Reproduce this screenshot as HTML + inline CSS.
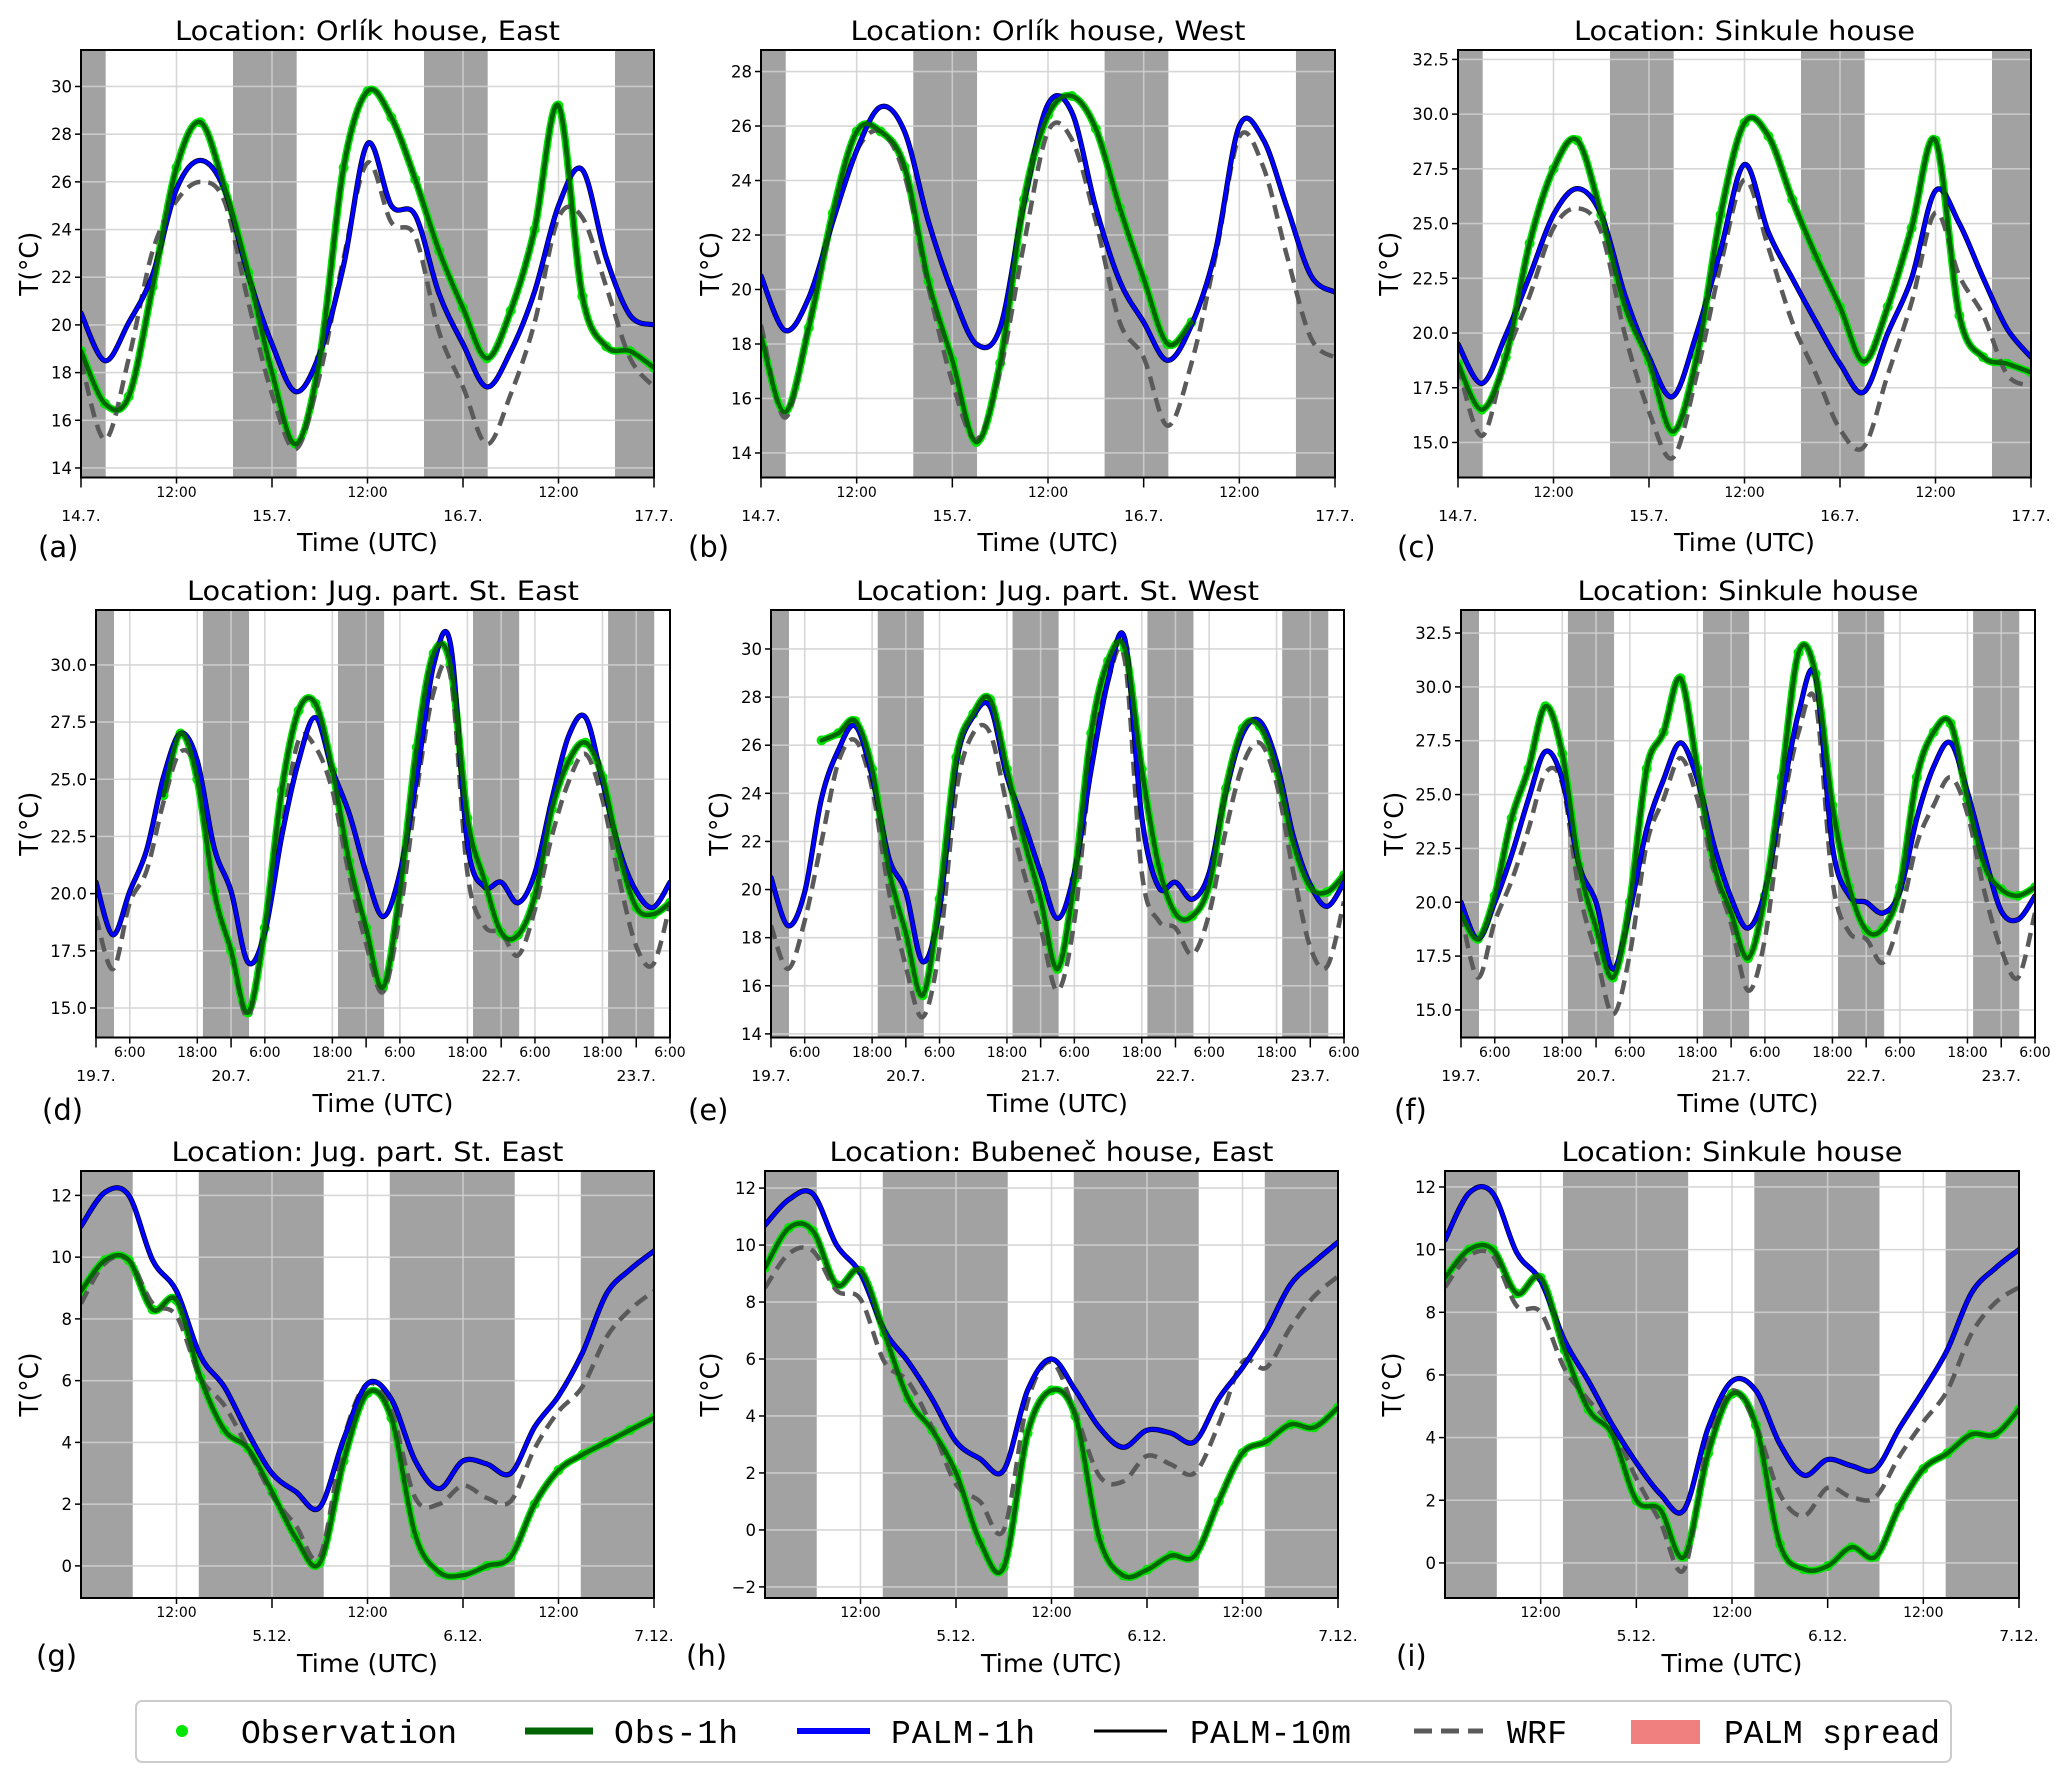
<!DOCTYPE html>
<html><head><meta charset="utf-8"><title>Temperature comparison panels</title>
<style>
html,body{margin:0;padding:0;background:#fff;}
svg{display:block;font-family:"DejaVu Sans","Liberation Sans",sans-serif;}
</style></head>
<body>
<svg id="fig" width="2067" height="1781" viewBox="0 0 2067 1781" xmlns="http://www.w3.org/2000/svg">
<rect x="0" y="0" width="2067" height="1781" fill="#fff"/>
<g id="panels"></g>
<g id="legend">
  <rect x="136" y="1701" width="1815" height="61" rx="6" fill="#fff" stroke="#cccccc" stroke-width="2"/>
  <g>
    <circle cx="182" cy="1731" r="6" fill="#00e600"/>
    <text x="241" y="1743" font-family="'Liberation Mono','DejaVu Sans Mono',monospace" font-size="33" textLength="216">Observation</text>
  </g>
  <g>
    <line x1="525" y1="1731" x2="593" y2="1731" stroke="#006400" stroke-width="7"/>
    <text x="614" y="1743" font-family="'Liberation Mono','DejaVu Sans Mono',monospace" font-size="33" textLength="124">Obs-1h</text>
  </g>
  <g>
    <line x1="797" y1="1731" x2="870" y2="1731" stroke="#0000ff" stroke-width="6"/>
    <text x="891" y="1743" font-family="'Liberation Mono','DejaVu Sans Mono',monospace" font-size="33" textLength="144">PALM-1h</text>
  </g>
  <g>
    <line x1="1094" y1="1731" x2="1167" y2="1731" stroke="#000" stroke-width="3"/>
    <text x="1190" y="1743" font-family="'Liberation Mono','DejaVu Sans Mono',monospace" font-size="33" textLength="161">PALM-10m</text>
  </g>
  <g>
    <line x1="1414" y1="1731" x2="1483" y2="1731" stroke="#5a5a5a" stroke-width="5" stroke-dasharray="18,9"/>
    <text x="1507" y="1743" font-family="'Liberation Mono','DejaVu Sans Mono',monospace" font-size="33" textLength="60">WRF</text>
  </g>
  <g>
    <rect x="1631" y="1720" width="69" height="24" fill="#f08080"/>
    <text x="1724" y="1743" font-family="'Liberation Mono','DejaVu Sans Mono',monospace" font-size="33" textLength="216">PALM spread</text>
  </g>
</g>
</svg>
<script>
// ---------- time grids (hours from start) ----------
const row1T = [0,3,6,9,12,15,18,21,24,27,30,33,36,39,42,45,48,51,54,57,60,63,66,69,72];
const row2T = [0,3,6,9,12,15,18,21,24,27,30,33,36,39,42,45,48,51,54,57,60,63,66,69,72,75,78,81,84,87,90,93,96,99,102];
const row3T = row1T;
// night bands (hours)
const row1Night = [[0,3.1],[19.1,27.1],[43.1,51.1],[67.1,72]];
const row2Night = [[0,3.2],[19,27.2],[43,51.2],[67,75.2],[91,99.2]];
const row3Night = [[0,6.5],[14.8,30.5],[38.8,54.5],[62.8,72]];
// tick labels
const row1TimeTicks = [12,36,60];
const row1TimeLabels = ["12:00","12:00","12:00"];
const row1DateTicks = [0,24,48,72];
const row1DateLabels = ["14.7.","15.7.","16.7.","17.7."];
const row2TimeTicks = [6,18,30,42,54,66,78,90,102];
const row2TimeLabels = ["6:00","18:00","6:00","18:00","6:00","18:00","6:00","18:00","6:00"];
const row2DateTicks = [0,24,48,72,96];
const row2DateLabels = ["19.7.","20.7.","21.7.","22.7.","23.7."];
const row3TimeTicks = [12,36,60];
const row3TimeLabels = ["12:00","12:00","12:00"];
const row3DateTicks = [24,48,72];
const row3DateLabels = ["5.12.","6.12.","7.12."];

// ---------- panel (a) Orlík house, East ----------
const aObs  = [18.9,16.7,17.0,21.6,26.6,28.5,25.8,22.2,18.0,15.0,18.6,26.6,29.8,28.7,26.1,23.1,20.7,18.6,20.6,24.0,29.2,21.2,19.1,18.9,18.2];
const aPalm = [20.5,18.5,20.1,22.1,25.7,26.9,25.7,22.1,19.2,17.2,18.8,22.5,27.6,25.0,24.6,21.3,19.2,17.4,18.9,21.4,25.0,26.5,22.8,20.4,20.0];
const aWrf  = [18.5,15.2,18.6,23.1,25.2,26.0,25.2,21.0,17.1,14.8,17.9,22.8,26.8,24.3,23.7,19.7,17.4,15.0,17.1,20.1,24.5,24.5,21.6,18.6,17.4];
// ---------- panel (b) Orlík house, West ----------
const bObs  = [18.3,15.5,18.6,22.8,25.8,25.8,24.5,20.3,17.4,14.4,17.3,23.3,26.4,27.1,25.9,23.0,20.4,18.0,18.8,null,null,null,null,null,null];
const bPalm = [20.5,18.5,19.7,22.5,25.1,26.7,25.8,22.5,19.9,18.0,18.6,23.2,26.8,26.5,23.0,20.3,18.8,17.4,18.7,21.4,26.0,25.5,23.0,20.5,19.9];
const bWrf  = [18.7,15.3,18.7,22.5,25.1,25.8,24.2,20.1,16.6,14.5,17.0,21.7,25.8,25.5,22.5,18.8,17.5,15.0,17.3,21.2,25.6,24.5,21.2,18.2,17.5];
// ---------- panel (c) Sinkule house (July 14-17) ----------
const cObs  = [18.6,16.5,18.9,24.1,27.5,28.8,25.4,21.2,18.7,15.5,18.9,25.4,29.6,29.0,26.1,23.5,21.2,18.7,21.2,24.8,28.8,20.8,18.9,18.6,18.2];
const cPalm = [19.5,17.7,19.9,22.6,25.4,26.6,25.4,21.7,18.9,17.1,20.0,23.8,27.7,24.6,22.5,20.5,18.6,17.3,20.0,22.5,26.5,25.0,22.5,20.2,18.9];
const cWrf  = [18.5,15.3,18.9,21.7,24.8,25.7,24.6,19.9,16.4,14.3,18.1,23.1,27.0,23.9,20.5,18.1,15.6,14.8,18.1,21.4,25.5,22.6,20.8,18.1,17.6];
// ---------- panel (d) Jug. part. St. East ----------
const dObs  = [null,null,null,null,24.3,27.0,25.0,20.1,17.5,14.8,18.5,24.5,28.0,28.3,25.4,21.4,18.5,15.9,20.1,26.4,30.5,30.0,23.3,20.6,18.3,18.2,19.9,23.7,25.8,26.6,25.1,21.7,19.4,19.1,19.6];
const dPalm = [20.5,18.2,20.1,21.9,25.1,27.0,25.8,22.0,20.1,17.0,18.3,22.5,25.8,27.7,25.4,23.5,20.9,19.0,20.9,25.1,30.0,30.9,22.2,20.3,20.5,19.6,20.9,24.1,26.9,27.7,24.9,21.9,20.1,19.4,20.5];
const dWrf  = [19.0,16.7,19.6,21.0,24.0,26.2,25.2,20.1,17.5,14.6,18.5,22.8,26.7,26.4,24.5,20.8,17.8,15.7,19.1,24.5,28.8,29.5,20.9,18.6,18.3,17.3,19.3,22.5,24.9,26.1,24.1,20.6,17.7,16.9,19.5];
// ---------- panel (e) Jug. part. St. West ----------
const eObs  = [null,null,null,26.2,26.5,27.0,25.0,20.8,18.2,15.6,19.6,25.5,27.3,27.9,25.0,22.1,19.6,16.7,20.4,26.5,29.5,30.0,25.0,21.0,19.0,18.9,20.2,24.2,26.7,26.8,25.0,21.9,20.1,19.9,20.6];
const ePalm = [20.5,18.5,19.9,23.8,25.8,26.8,24.7,21.3,19.9,17.0,19.2,25.3,27.2,27.6,24.7,22.8,20.7,18.8,20.7,25.0,28.7,30.4,23.0,20.1,20.3,19.6,20.7,24.1,26.5,27.0,25.3,22.2,20.2,19.3,20.3];
const eWrf  = [18.5,16.7,18.7,22.0,25.3,26.2,24.2,19.9,16.8,14.7,17.6,24.1,26.5,26.5,23.5,20.7,18.4,15.8,18.7,25.3,28.7,29.5,20.7,18.7,18.4,17.3,19.0,22.5,25.2,26.1,24.4,20.7,17.6,16.8,19.5];
// ---------- panel (f) Sinkule house (July 19-23) ----------
const fObs  = [19.5,18.3,20.3,23.9,26.2,29.1,26.9,21.7,18.8,16.5,20.0,26.2,27.9,30.4,26.2,21.7,19.5,17.4,20.3,25.8,31.6,30.6,24.5,20.7,18.7,18.8,20.7,25.8,27.9,28.3,24.8,21.7,20.6,20.3,20.7];
const fPalm = [20.0,18.3,20.0,22.2,24.8,27.0,25.7,21.7,20.0,16.9,19.6,23.4,25.7,27.4,25.7,22.6,20.2,18.8,20.5,24.8,28.8,30.5,22.6,20.3,20.0,19.5,20.5,23.9,26.3,27.4,25.1,22.2,19.6,19.2,20.3];
const fWrf  = [19.5,16.5,19.1,21.0,23.4,26.0,25.5,20.5,17.6,14.8,17.6,22.7,24.8,26.7,24.8,21.4,19.0,15.9,18.3,24.1,27.9,29.3,21.0,18.6,18.3,17.2,19.3,22.7,24.5,25.8,24.1,20.5,17.8,16.5,19.5];
// ---------- panel (g) Jug. part. St. East (December) ----------
const gObs  = [8.9,9.9,9.9,8.3,8.6,6.1,4.4,3.8,2.4,0.9,0.1,3.4,5.6,4.8,1.0,-0.2,-0.3,0.0,0.3,2.0,3.1,3.6,4.0,4.4,4.8];
const gPalm = [11.0,12.1,12.0,9.9,8.9,6.8,5.8,4.3,3.0,2.4,1.9,4.1,5.9,5.4,3.4,2.5,3.4,3.3,3.0,4.5,5.5,6.9,8.8,9.6,10.2];
const gWrf  = [8.5,9.8,9.9,8.5,8.1,6.1,5.2,3.8,2.3,1.3,0.3,4.1,5.9,5.0,2.2,2.0,2.6,2.2,2.1,3.8,5.0,5.8,7.4,8.3,8.9];
// ---------- panel (h) Bubeneč house, East ----------
const hObs  = [9.2,10.6,10.5,8.6,9.1,6.9,4.6,3.5,2.0,-0.4,-1.3,3.4,4.9,4.0,-0.3,-1.6,-1.4,-0.9,-0.9,1.0,2.7,3.1,3.7,3.6,4.3];
const hPalm = [10.7,11.6,11.8,10.0,9.0,7.0,5.9,4.6,3.1,2.5,2.1,4.9,6.0,4.9,3.6,2.9,3.5,3.4,3.1,4.6,5.7,7.0,8.6,9.4,10.1];
const hWrf  = [8.5,9.7,9.8,8.4,8.1,5.9,5.2,3.6,1.6,1.0,0.0,4.5,5.9,4.1,1.9,1.7,2.6,2.3,2.0,3.7,5.9,5.7,7.1,8.2,8.9];
// ---------- panel (i) Sinkule house (December) ----------
const iObs  = [9.1,10.0,10.0,8.6,9.1,6.8,4.9,4.1,2.0,1.7,0.2,3.5,5.4,4.4,0.6,-0.2,-0.1,0.5,0.2,1.8,3.0,3.5,4.1,4.1,4.9];
const iPalm = [10.3,11.8,11.8,9.9,9.0,7.1,5.8,4.4,3.2,2.2,1.7,4.3,5.8,5.5,3.8,2.8,3.3,3.1,3.0,4.3,5.5,6.8,8.6,9.4,10.0];
const iWrf  = [8.8,9.8,9.8,8.2,8.0,6.2,5.2,4.3,2.7,1.3,-0.2,3.9,5.5,4.4,2.2,1.5,2.4,2.1,2.1,3.4,4.5,5.5,7.3,8.3,8.8];

// y tick values
const aYTicks=[14,16,18,20,22,24,26,28,30];
const bYTicks=[14,16,18,20,22,24,26,28];
const cYTicks=[15,17.5,20,22.5,25,27.5,30,32.5];
const dYTicks=[15,17.5,20,22.5,25,27.5,30];
const eYTicks=[14,16,18,20,22,24,26,28,30];
const fYTicks=[15,17.5,20,22.5,25,27.5,30,32.5];
const gYTicks=[0,2,4,6,8,10,12];
const hYTicks=[-2,0,2,4,6,8,10,12];
const iYTicks=[0,2,4,6,8,10,12];

const NS="http://www.w3.org/2000/svg";
function mk(tag, attrs, parent){
  const e=document.createElementNS(NS,tag);
  for(const k in attrs) e.setAttribute(k,attrs[k]);
  if(parent) parent.appendChild(e);
  return e;
}

const rows = {
  1:{t:row1T,span:72,night:row1Night,tt:row1TimeTicks,tl:row1TimeLabels,dt:row1DateTicks,dl:row1DateLabels,tly:497,dly:521,xly:551},
  2:{t:row2T,span:102,night:row2Night,tt:row2TimeTicks,tl:row2TimeLabels,dt:row2DateTicks,dl:row2DateLabels,tly:1057,dly:1081,xly:1112},
  3:{t:row3T,span:72,night:row3Night,tt:row3TimeTicks,tl:row3TimeLabels,dt:row3DateTicks,dl:row3DateLabels,tly:1617,dly:1641,xly:1672}
};

const panels = [
 {id:'a',row:1,x0:81,x1:654,y0:50,y1:477.5,lo:13.6,hi:31.53,yt:aYTicks,dec:false,obs:aObs,palm:aPalm,wrf:aWrf,title:'Location: Orlík house, East',tw:385,ty:40,letter:'(a)',lx:38,ly:557,ylx:29},
 {id:'b',row:1,x0:761,x1:1335,y0:50,y1:477.5,lo:13.1,hi:28.79,yt:bYTicks,dec:false,obs:bObs,palm:bPalm,wrf:bWrf,title:'Location: Orlík house, West',tw:395,ty:40,letter:'(b)',lx:688,ly:557,ylx:710},
 {id:'c',row:1,x0:1458,x1:2031,y0:50,y1:477.5,lo:13.4,hi:32.93,yt:cYTicks,dec:true,obs:cObs,palm:cPalm,wrf:cWrf,title:'Location: Sinkule house',tw:341,ty:40,letter:'(c)',lx:1397,ly:557,ylx:1389},
 {id:'d',row:2,x0:96,x1:670,y0:610,y1:1037.5,lo:13.71,hi:32.4,yt:dYTicks,dec:true,obs:dObs,palm:dPalm,wrf:dWrf,title:'Location: Jug. part. St. East',tw:392,ty:600,letter:'(d)',lx:42,ly:1120,ylx:29},
 {id:'e',row:2,x0:771,x1:1344,y0:610,y1:1037.5,lo:13.85,hi:31.62,yt:eYTicks,dec:false,obs:eObs,palm:ePalm,wrf:eWrf,title:'Location: Jug. part. St. West',tw:403,ty:600,letter:'(e)',lx:688,ly:1120,ylx:719},
 {id:'f',row:2,x0:1461,x1:2035,y0:610,y1:1037.5,lo:13.72,hi:33.57,yt:fYTicks,dec:true,obs:fObs,palm:fPalm,wrf:fWrf,title:'Location: Sinkule house',tw:341,ty:600,letter:'(f)',lx:1394,ly:1120,ylx:1394},
 {id:'g',row:3,x0:81,x1:654,y0:1171,y1:1598,lo:-1.04,hi:12.79,yt:gYTicks,dec:false,obs:gObs,palm:gPalm,wrf:gWrf,title:'Location: Jug. part. St. East',tw:392,ty:1161,letter:'(g)',lx:36,ly:1666,ylx:29},
 {id:'h',row:3,x0:765,x1:1338,y0:1171,y1:1598,lo:-2.39,hi:12.6,yt:hYTicks,dec:false,obs:hObs,palm:hPalm,wrf:hWrf,title:'Location: Bubeneč house, East',tw:444,ty:1161,letter:'(h)',lx:686,ly:1666,ylx:710},
 {id:'i',row:3,x0:1445,x1:2019,y0:1171,y1:1598,lo:-1.12,hi:12.51,yt:iYTicks,dec:false,obs:iObs,palm:iPalm,wrf:iWrf,title:'Location: Sinkule house',tw:341,ty:1161,letter:'(i)',lx:1396,ly:1666,ylx:1392}
];

function curvePath(ts, vs, X, Y){
  let d='', seg=[];
  const flush=()=>{
    if(seg.length<2){seg=[];return;}
    d+='M'+seg[0][0].toFixed(1)+','+seg[0][1].toFixed(1);
    for(let i=0;i<seg.length-1;i++){
      const p0=seg[Math.max(0,i-1)],p1=seg[i],p2=seg[i+1],p3=seg[Math.min(seg.length-1,i+2)];
      const c1x=p1[0]+(p2[0]-p0[0])/6,c1y=p1[1]+(p2[1]-p0[1])/6;
      const c2x=p2[0]-(p3[0]-p1[0])/6,c2y=p2[1]-(p3[1]-p1[1])/6;
      d+='C'+c1x.toFixed(1)+','+c1y.toFixed(1)+' '+c2x.toFixed(1)+','+c2y.toFixed(1)+' '+p2[0].toFixed(1)+','+p2[1].toFixed(1);
    }
    seg=[];
  };
  for(let i=0;i<ts.length;i++){
    if(vs[i]===null||vs[i]===undefined){flush();continue;}
    seg.push([X(ts[i]),Y(vs[i])]);
  }
  flush();
  return d;
}

const root=document.getElementById('panels');
panels.forEach(p=>{
  const r=rows[p.row];
  const X=t=>p.x0+(t/r.span)*(p.x1-p.x0);
  const Y=v=>p.y1-(v-p.lo)/(p.hi-p.lo)*(p.y1-p.y0);
  const g=mk('g',{},root);
  
  
  const clipId='clip-'+p.id;
  const cp=mk('clipPath',{id:clipId},g);
  mk('rect',{x:p.x0,y:p.y0,width:p.x1-p.x0,height:p.y1-p.y0},cp);
  const bg=mk('rect',{x:p.x0,y:p.y0,width:p.x1-p.x0,height:p.y1-p.y0,fill:'#fff'},g);
  
  
  r.night.forEach((n,k)=>{
    const b=mk('rect',{x:X(n[0]),y:p.y0,width:X(n[1])-X(n[0]),height:p.y1-p.y0,fill:'#a2a2a2'},g);
    
    
  });
  const grid=mk('g',{stroke:'#d0d0d0','stroke-width':1.6,'stroke-opacity':0.85},g);
  
  
  p.yt.forEach(v=>{mk('line',{x1:p.x0,x2:p.x1,y1:Y(v),y2:Y(v)},grid);});
  r.tt.concat(r.dt).forEach(t=>{mk('line',{x1:X(t),x2:X(t),y1:p.y0,y2:p.y1},grid);});
  const sg=mk('g',{'clip-path':'url(#'+clipId+')',fill:'none','stroke-linejoin':'round','stroke-linecap':'round'},g);
  
  
  const halo=mk('path',{d:curvePath(r.t,p.obs,X,Y),stroke:'#00e600','stroke-width':7.5},sg);
  
  
  p.obs.forEach((v,i)=>{
    if(v===null) return;
    const c=mk('circle',{cx:X(r.t[i]),cy:Y(v),r:5,fill:'#00e600',stroke:'none'},sg);
    
    
  });
  const w=mk('path',{d:curvePath(r.t,p.wrf,X,Y),stroke:'#5a5a5a','stroke-width':4.5,'stroke-dasharray':'14,8','stroke-linecap':'butt'},sg);
  
  
  const k10=mk('path',{d:curvePath(r.t,p.palm,X,Y),stroke:'#000','stroke-width':5.2},sg);
  
  
  const b1=mk('path',{d:curvePath(r.t,p.palm,X,Y),stroke:'#0000ff','stroke-width':4},sg);
  
  
  const o1=mk('path',{d:curvePath(r.t,p.obs,X,Y),stroke:'#006400','stroke-width':4.5},sg);
  
  
  const fr=mk('rect',{x:p.x0,y:p.y0,width:p.x1-p.x0,height:p.y1-p.y0,fill:'none',stroke:'#000','stroke-width':2},g);
  
  
  const ya=mk('g',{},g);
  
  
  p.yt.forEach(v=>{
    mk('line',{x1:p.x0-6,x2:p.x0,y1:Y(v),y2:Y(v),stroke:'#000','stroke-width':1.5},ya);
    const lab=p.dec?v.toFixed(1):(v<0?'\u2212'+Math.abs(v):String(v));
    const t=mk('text',{x:p.x0-9,y:Y(v)+6,'text-anchor':'end','font-size':16.5,fill:'#000'},ya);
    t.textContent=lab;
    
    
  });
  const xa=mk('g',{},g);
  
  
  r.tt.forEach((tv,i)=>{
    mk('line',{x1:X(tv),x2:X(tv),y1:p.y1,y2:p.y1+6,stroke:'#000','stroke-width':1.5},xa);
    const t=mk('text',{x:X(tv),y:r.tly,'text-anchor':'middle','font-size':14,fill:'#000'},xa);
    t.textContent=r.tl[i];
    
    
  });
  r.dt.forEach((tv,i)=>{
    mk('line',{x1:X(tv),x2:X(tv),y1:p.y1,y2:p.y1+10,stroke:'#000','stroke-width':1.5},xa);
    const t=mk('text',{x:X(tv),y:r.dly,'text-anchor':'middle','font-size':15.5,fill:'#000'},xa);
    t.textContent=r.dl[i];
    
    
  });
  const ti=mk('text',{x:(p.x0+p.x1)/2,y:p.ty,'text-anchor':'middle','font-size':27,fill:'#000',textLength:p.tw,lengthAdjust:'spacingAndGlyphs'},g);
  ti.textContent=p.title;
  
  
  const xl=mk('text',{x:(p.x0+p.x1)/2,y:r.xly,'text-anchor':'middle','font-size':25,fill:'#000',textLength:141,lengthAdjust:'spacingAndGlyphs'},g);
  xl.textContent='Time (UTC)';
  
  
  const cy=(p.y0+p.y1)/2;
  const yl=mk('text',{x:p.ylx+9,y:cy,'text-anchor':'middle','font-size':26,fill:'#000',transform:'rotate(-90 '+(p.ylx+9)+' '+cy+')',textLength:64,lengthAdjust:'spacingAndGlyphs'},g);
  yl.textContent='T(°C)';
  
  
  const le=mk('text',{x:p.lx,y:p.ly,'font-size':29,fill:'#000'},g);
  le.textContent=p.letter;
  
  
});
</script>
</body></html>
